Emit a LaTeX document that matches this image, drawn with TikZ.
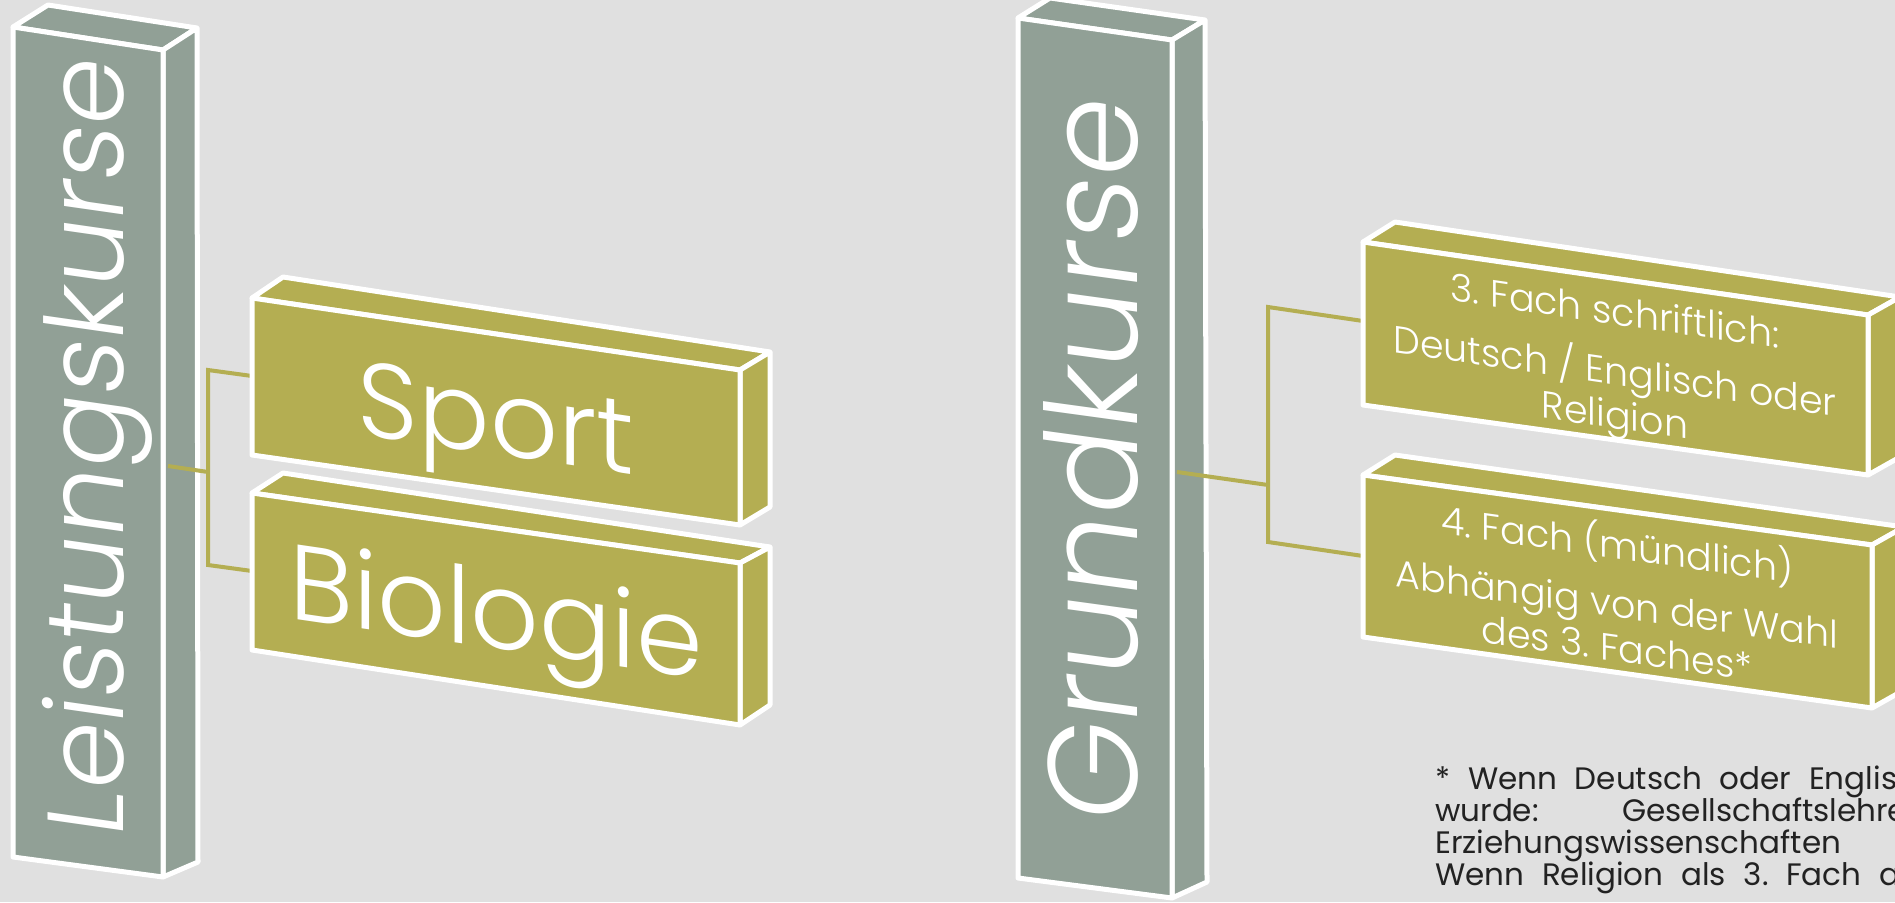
\documentclass[tikz,border=0pt]{standalone}
\usepackage{fontspec}
\setmainfont{Poppins}[UprightFont={* Light}]
\newfontfamily\notefont{Poppins}
\frenchspacing
\definecolor{bg}{RGB}{224,224,224}
\definecolor{pillar}{RGB}{145,160,150}
\definecolor{olive}{RGB}{180,174,82}
\definecolor{note}{RGB}{34,34,34}
\tikzset{
  face/.style={draw=white, line width=5pt, line join=round},
  pillarface/.style={face, fill=pillar},
  boxface/.style={face, fill=olive},
  conn/.style={draw=olive, line width=4pt, line join=miter},
  bigtxt/.style={text=white, transform shape, inner sep=0pt},
  notetxt/.style={text=note, inner sep=0pt, anchor=base west, font=\notefont\fontsize{31}{31}\selectfont},
}
\begin{document}
\begin{tikzpicture}[x=1pt,y=-1pt]
\useasboundingbox (0,0) rectangle (1895,902);
\fill[bg] (0,0) rectangle (1895,902);

% ---- left pillar: Leistungskurse
\filldraw[pillarface] (13,27) -- (48,5) -- (197,28) -- (163,50) -- cycle;
\filldraw[pillarface] (163,50) -- (197,28) -- (198,862) -- (163,877) -- cycle;
\filldraw[pillarface] (13,27) -- (163,50) -- (163,877) -- (13,857) -- cycle;
\begin{scope}[shift={(13,27)}, yslant=-0.143]
  \node[bigtxt, rotate=90, anchor=base, font=\fontsize{108}{115}\selectfont] (lk) at (110,408) {Leistungskurse};
\end{scope}

% ---- right pillar: Grundkurse
\filldraw[pillarface] (1018,18) -- (1050,-2) -- (1205,20) -- (1172,40) -- cycle;
\filldraw[pillarface] (1172,40) -- (1205,20) -- (1207,882) -- (1172,898) -- cycle;
\filldraw[pillarface] (1018,18) -- (1172,40) -- (1172,898) -- (1018,878) -- cycle;
\begin{scope}[shift={(1018,18)}, yslant=-0.137]
  \node[bigtxt, rotate=90, anchor=base, font=\fontsize{127}{130}\selectfont] (gk) at (119,430) {Grundkurse};
\end{scope}

% ---- connector points
\coordinate (lkout) at (168,466);
\coordinate (lkjoin) at (208,472);
\coordinate (lktop) at (208,370);
\coordinate (lkbot) at (208,565);
\coordinate (sportin) at (252,376);
\coordinate (bioin) at (252,571);
\coordinate (gkout) at (1177,472);
\coordinate (gkjoin) at (1268,485);
\coordinate (gktop) at (1268,307);
\coordinate (gkbot) at (1268,542);
\coordinate (drittin) at (1363,321);
\coordinate (viertin) at (1363,556);

\draw[conn] (lkout) -- (lkjoin);
\draw[conn] (sportin) -- (lktop) -- (lkbot) -- (bioin);
\draw[conn] (gkout) -- (gkjoin);
\draw[conn] (drittin) -- (gktop) -- (gkbot) -- (viertin);

% ---- Sport box
\filldraw[boxface] (252,298) -- (283,277) -- (770,352) -- (740,370) -- cycle;
\filldraw[boxface] (740,370) -- (770,352) -- (770,507) -- (740,525) -- cycle;
\filldraw[boxface] (252,298) -- (740,370) -- (740,525) -- (252,455) -- cycle;
\begin{scope}[shift={(252,298)}, yslant=-0.146]
  \node[bigtxt, anchor=base, font=\fontsize{106}{110}\selectfont] (sport) at (244,121) {Sport};
\end{scope}

% ---- Biologie box
\filldraw[boxface] (252,493) -- (283,473) -- (770,547) -- (740,563) -- cycle;
\filldraw[boxface] (740,563) -- (770,547) -- (770,705) -- (740,725) -- cycle;
\filldraw[boxface] (252,493) -- (740,563) -- (740,725) -- (252,650) -- cycle;
\begin{scope}[shift={(252,493)}, yslant=-0.146]
  \node[bigtxt, anchor=base, font=\fontsize{107}{110}\selectfont] (bio) at (244,120) {Biologie};
\end{scope}

% ---- 3. Fach box
\filldraw[boxface] (1363,242) -- (1395,222) -- (1900,297) -- (1868,315) -- cycle;
\filldraw[boxface] (1868,315) -- (1900,297) -- (1900,457) -- (1868,475) -- cycle;
\filldraw[boxface] (1363,242) -- (1868,315) -- (1868,475) -- (1363,405) -- cycle;
\begin{scope}[shift={(1363,242)}, yslant=-0.145, font=\fontsize{38}{40}\selectfont]
  \node[bigtxt, anchor=base] (d1) at (252,46) {3. Fach schriftlich:};
  \node[bigtxt, anchor=base] (d2) at (252,106) {Deutsch / Englisch oder};
  \node[bigtxt, anchor=base] (d3) at (252,150) {Religion};
\end{scope}

% ---- 4. Fach box
\filldraw[boxface] (1363,475) -- (1395,455) -- (1904,527) -- (1872,545) -- cycle;
\filldraw[boxface] (1872,545) -- (1904,527) -- (1904,690) -- (1872,708) -- cycle;
\filldraw[boxface] (1363,475) -- (1872,545) -- (1872,708) -- (1363,637) -- cycle;
\begin{scope}[shift={(1363,475)}, yslant=-0.140, font=\fontsize{38}{40}\selectfont]
  \node[bigtxt, anchor=base] (v1) at (254,48) {4. Fach (mündlich)};
  \node[bigtxt, anchor=base] (v2) at (254,107) {Abhängig von der Wahl};
  \node[bigtxt, anchor=base] (v3) at (254,151) {des 3. Faches*};
\end{scope}

% ---- footnote
\node[notetxt] (f1) at (1435,789) {\makebox[462pt][s]{* Wenn Deutsch oder Englis}};
\node[notetxt] (f2) at (1435,821) {\makebox[472pt][s]{wurde: Gesellschaftslehre}};
\node[notetxt] (f3) at (1435,853) {Erziehungswissenschaften};
\node[notetxt] (f4) at (1435,885) {\makebox[465pt][s]{Wenn Religion als 3. Fach a}};
\end{tikzpicture}
\end{document}
